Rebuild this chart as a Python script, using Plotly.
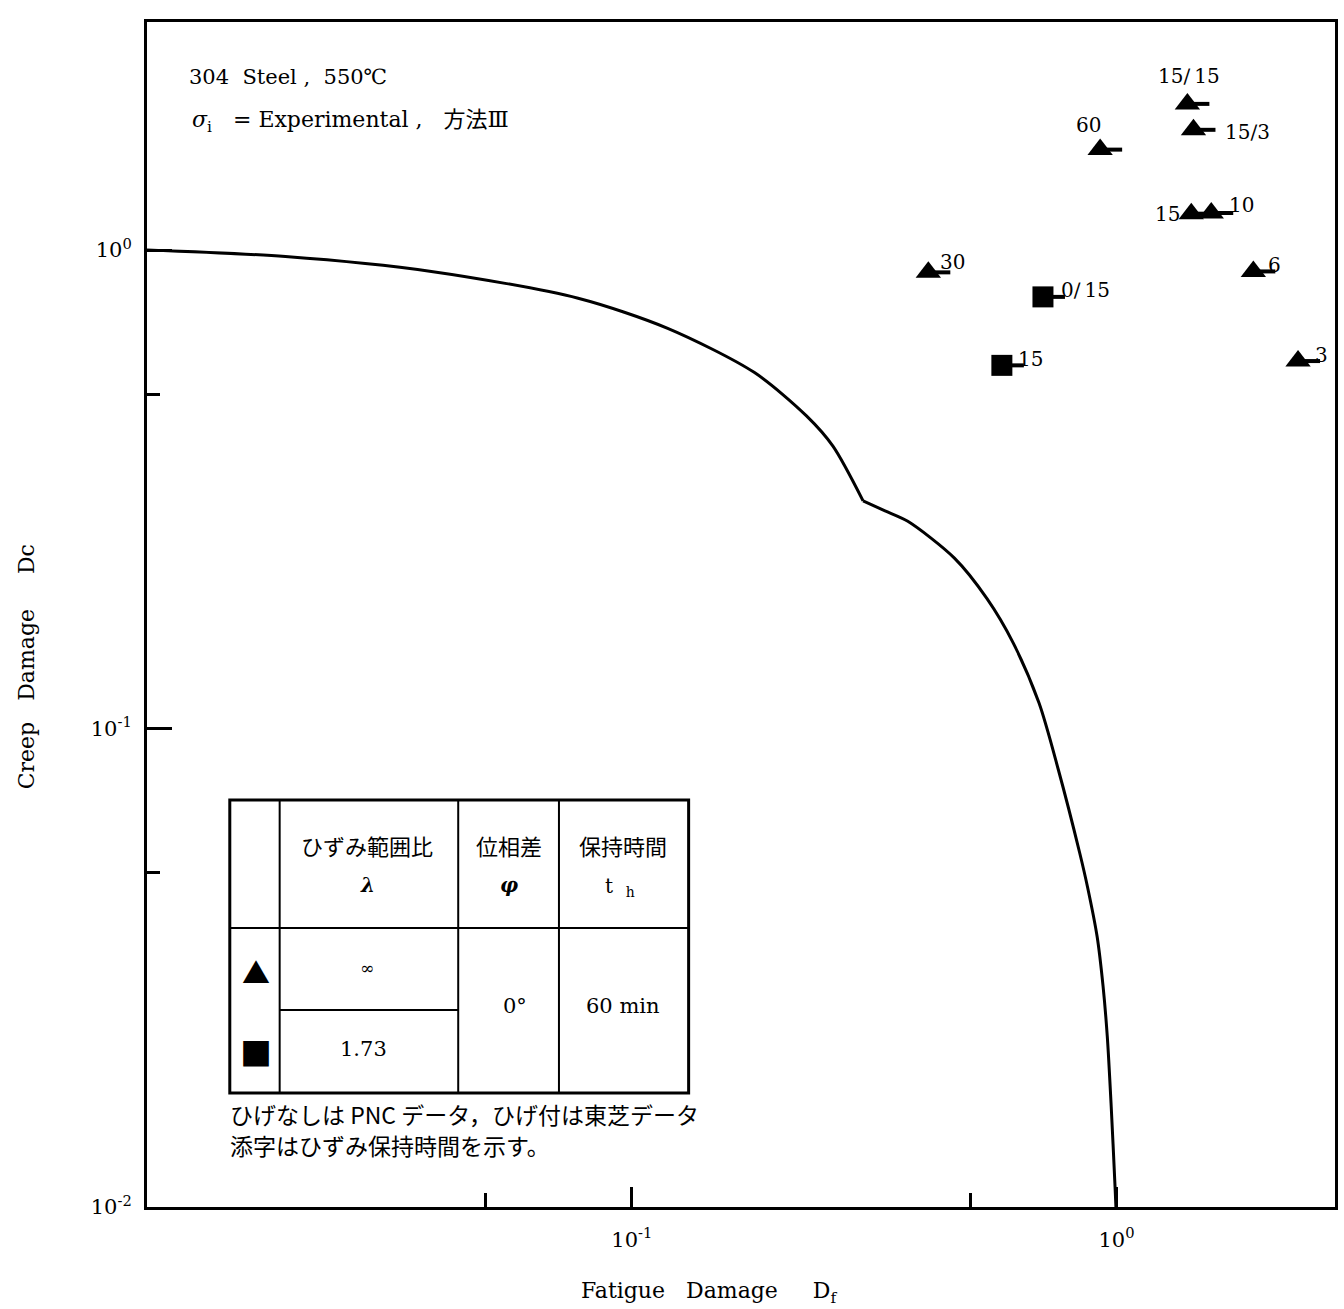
import math
import plotly.graph_objects as go

# ---------------- data ----------------
# Envelope curve (creep-fatigue interaction diagram), read point by point
curve_df = [0.01, 0.0193, 0.0386, 0.0775, 0.1186, 0.1788, 0.2293, 0.260, 0.300,
            0.333, 0.371, 0.463, 0.540, 0.612, 0.692, 0.758, 0.840, 0.871,
            0.912, 0.938, 0.957, 0.975, 0.993, 0.997]
curve_dc = [1.0, 0.969, 0.902, 0.793, 0.686, 0.555, 0.450, 0.389, 0.299,
            0.285, 0.271, 0.227, 0.187, 0.151, 0.113, 0.0822, 0.0548, 0.0467,
            0.0367, 0.0289, 0.0227, 0.0162, 0.0110, 0.0100]
KNEE = 8  # index of the knee point (0.3, 0.3)

# Triangles: lambda = infinity
tri_df = [1.40, 1.441, 0.925, 1.426, 1.568, 1.915, 2.368, 0.409]
tri_dc = [2.02, 1.783, 1.621, 1.191, 1.195, 0.902, 0.586, 0.898]
tri_lbl = ["15\u2215\u200915", "15\u22153", "60", "15", "10", "6", "3", "30"]

# Squares: lambda = 1.73
sq_df = [0.705, 0.580]
sq_dc = [0.798, 0.574]
sq_lbl = ["0\u2215\u200915", "15"]

x_tickvals = [0.01, 0.1, 1]
x_ticktext = ["", "10<sup>-1</sup>", "10<sup>0</sup>"]
y_tickvals = [0.01, 0.1, 1]
y_ticktext = ["10<sup>-2</sup>", "10<sup>-1</sup>", "10<sup>0</sup>"]
minor_vals = [0.05, 0.5]

# ---------------- style / layout ----------------
W, H = 1344, 1309
L, T, R, B = 147, 22, 1338, 1207
XDEC, YDEC = 486.0, 478.5
SERIF = "DejaVu Serif, Noto Sans CJK JP, serif"
CJK = "Noto Sans CJK JP, DejaVu Serif, sans-serif"


def pxp(x):
    return (x - L) / (R - L)


def pyp(y):
    return (B - y) / (B - T)


# label placement offsets (pixels) for each point label
tri_off = [(2, 28, "center"), (30, -2, "left"), (-12, 25, "center"),
           (-9, 0, "right"), (16, 8, "left"), (13, 6, "left"),
           (15, 6, "left"), (10, 10, "left")]
sq_off = [(16, 7, "left"), (14, 6, "left")]

fig = go.Figure()
fig.add_trace(go.Scatter(x=curve_df[:KNEE + 1], y=curve_dc[:KNEE + 1], mode="lines",
                         line=dict(color="black", width=3, shape="spline", smoothing=0.8),
                         hoverinfo="skip", showlegend=False))
fig.add_trace(go.Scatter(x=curve_df[KNEE:], y=curve_dc[KNEE:], mode="lines",
                         line=dict(color="black", width=3, shape="spline", smoothing=0.8),
                         hoverinfo="skip", showlegend=False))
fig.add_trace(go.Scatter(x=tri_df, y=tri_dc, mode="markers",
                         marker=dict(symbol="triangle-up", size=22, color="black",
                                     line=dict(width=0)),
                         showlegend=False))
fig.add_trace(go.Scatter(x=sq_df, y=sq_dc, mode="markers",
                         marker=dict(symbol="square", size=21, color="black",
                                     line=dict(width=0)),
                         showlegend=False))

shapes = []
annotations = []

# whiskers (ひげ) under each marker
for xs, ys, x0, x1, yo in [(tri_df, tri_dc, 6, 22, -7), (sq_df, sq_dc, 6, 22, -8)]:
    for xv, yv in zip(xs, ys):
        shapes.append(dict(type="line", xref="x", yref="y",
                           xsizemode="pixel", ysizemode="pixel",
                           xanchor=xv, yanchor=yv,
                           x0=x0, x1=x1, y0=yo, y1=yo,
                           line=dict(color="black", width=4)))

# point labels
for xs, ys, lbls, offs in [(tri_df, tri_dc, tri_lbl, tri_off), (sq_df, sq_dc, sq_lbl, sq_off)]:
    for xv, yv, t, (dx, dy, anc) in zip(xs, ys, lbls, offs):
        annotations.append(dict(x=math.log10(xv), y=math.log10(yv), xref="x", yref="y",
                                text=t, showarrow=False, xanchor=anc, yanchor="middle",
                                xshift=dx, yshift=dy,
                                font=dict(family=SERIF, size=20, color="black")))

# header text
annotations.append(dict(x=pxp(187), y=pyp(77), xref="paper", yref="paper",
                        text="304  Steel ,  550℃", showarrow=False,
                        xanchor="left", yanchor="middle",
                        font=dict(family=SERIF, size=21, color="black")))
annotations.append(dict(x=pxp(190), y=pyp(122), xref="paper", yref="paper",
                        text="<i>σ</i><sub>i</sub>   = Experimental ,   方法Ⅲ", showarrow=False,
                        xanchor="left", yanchor="middle",
                        font=dict(family=SERIF, size=22, color="black")))

# axis titles
annotations.append(dict(x=pxp(710), y=pyp(1292), xref="paper", yref="paper",
                        text="Fatigue   Damage     D<sub>f</sub>", showarrow=False,
                        xanchor="center", yanchor="middle",
                        font=dict(family=SERIF, size=22, color="black")))
annotations.append(dict(x=pxp(26), y=pyp(667), xref="paper", yref="paper",
                        text="Creep   Damage     Dc", showarrow=False, textangle=-90,
                        xanchor="center", yanchor="middle",
                        font=dict(family=SERIF, size=22, color="black")))

# inset table
tl, tt, tr, tb = 230, 800, 690, 1093
c1, c2, c3 = 280, 459, 560
r1, r2 = 928, 1010
shapes.append(dict(type="rect", xref="paper", yref="paper",
                   x0=pxp(tl), x1=pxp(tr), y0=pyp(tt), y1=pyp(tb),
                   line=dict(color="black", width=3), fillcolor="white", layer="above"))
for cx in (c1, c2, c3):
    shapes.append(dict(type="line", xref="paper", yref="paper",
                       x0=pxp(cx), x1=pxp(cx), y0=pyp(tt), y1=pyp(tb),
                       line=dict(color="black", width=2)))
shapes.append(dict(type="line", xref="paper", yref="paper",
                   x0=pxp(tl), x1=pxp(tr), y0=pyp(r1), y1=pyp(r1),
                   line=dict(color="black", width=2)))
shapes.append(dict(type="line", xref="paper", yref="paper",
                   x0=pxp(c1), x1=pxp(c2), y0=pyp(r2), y1=pyp(r2),
                   line=dict(color="black", width=2)))

table_text = [
    ("ひずみ範囲比", 368, 845, CJK, 22),
    ("<b><i>λ</i></b>", 368, 885, SERIF, 20),
    ("位相差", 510, 845, CJK, 22),
    ("<b><i>φ</i></b>", 510, 885, SERIF, 20),
    ("保持時間", 624, 845, CJK, 22),
    ("t  <sub>h</sub>", 621, 887, SERIF, 20),
    ("▲", 256, 972, CJK, 28),
    ("∞", 368, 968, SERIF, 17),
    ("■", 256, 1052, CJK, 32),
    ("1.73", 364, 1049, SERIF, 21),
    ("0°", 516, 1006, SERIF, 21),
    ("60 min", 624, 1006, SERIF, 21),
]
for t, x, y, fam, sz in table_text:
    annotations.append(dict(x=pxp(x), y=pyp(y), xref="paper", yref="paper",
                            text=t, showarrow=False, xanchor="center", yanchor="middle",
                            font=dict(family=fam, size=sz, color="black")))

annotations.append(dict(x=pxp(228), y=pyp(1114), xref="paper", yref="paper",
                        text="ひげなしは PNC データ，ひげ付は東芝データ", showarrow=False,
                        xanchor="left", yanchor="middle",
                        font=dict(family=CJK, size=23, color="black")))
annotations.append(dict(x=pxp(228), y=pyp(1145), xref="paper", yref="paper",
                        text="添字はひずみ保持時間を示す。", showarrow=False,
                        xanchor="left", yanchor="middle",
                        font=dict(family=CJK, size=23, color="black")))

xr = [-2, -2 + (R - L) / XDEC]
yr = [-2, -2 + (B - T) / YDEC]

fig.update_layout(
    width=W, height=H, autosize=False,
    margin=dict(l=L, r=W - R, t=T, b=H - B, pad=0),
    paper_bgcolor="white", plot_bgcolor="white",
    shapes=shapes, annotations=annotations,
    xaxis=dict(type="log", range=xr, showgrid=False, zeroline=False,
               showline=True, mirror=True, linecolor="black", linewidth=3,
               ticks="inside", ticklen=20, tickwidth=3, tickcolor="black",
               tickvals=x_tickvals, ticktext=x_ticktext, ticklabelstandoff=12,
               tickfont=dict(family=SERIF, size=21, color="black"),
               minor=dict(tickvals=minor_vals, ticks="inside", ticklen=14,
                          tickwidth=3, tickcolor="black", showgrid=False)),
    yaxis=dict(type="log", range=yr, showgrid=False, zeroline=False,
               showline=True, mirror=True, linecolor="black", linewidth=3,
               ticks="inside", ticklen=25, tickwidth=3, tickcolor="black",
               tickvals=y_tickvals, ticktext=y_ticktext, ticklabelstandoff=8,
               tickfont=dict(family=SERIF, size=21, color="black"),
               minor=dict(tickvals=minor_vals, ticks="inside", ticklen=13,
                          tickwidth=3, tickcolor="black", showgrid=False)),
)

fig.write_html("out.html")
